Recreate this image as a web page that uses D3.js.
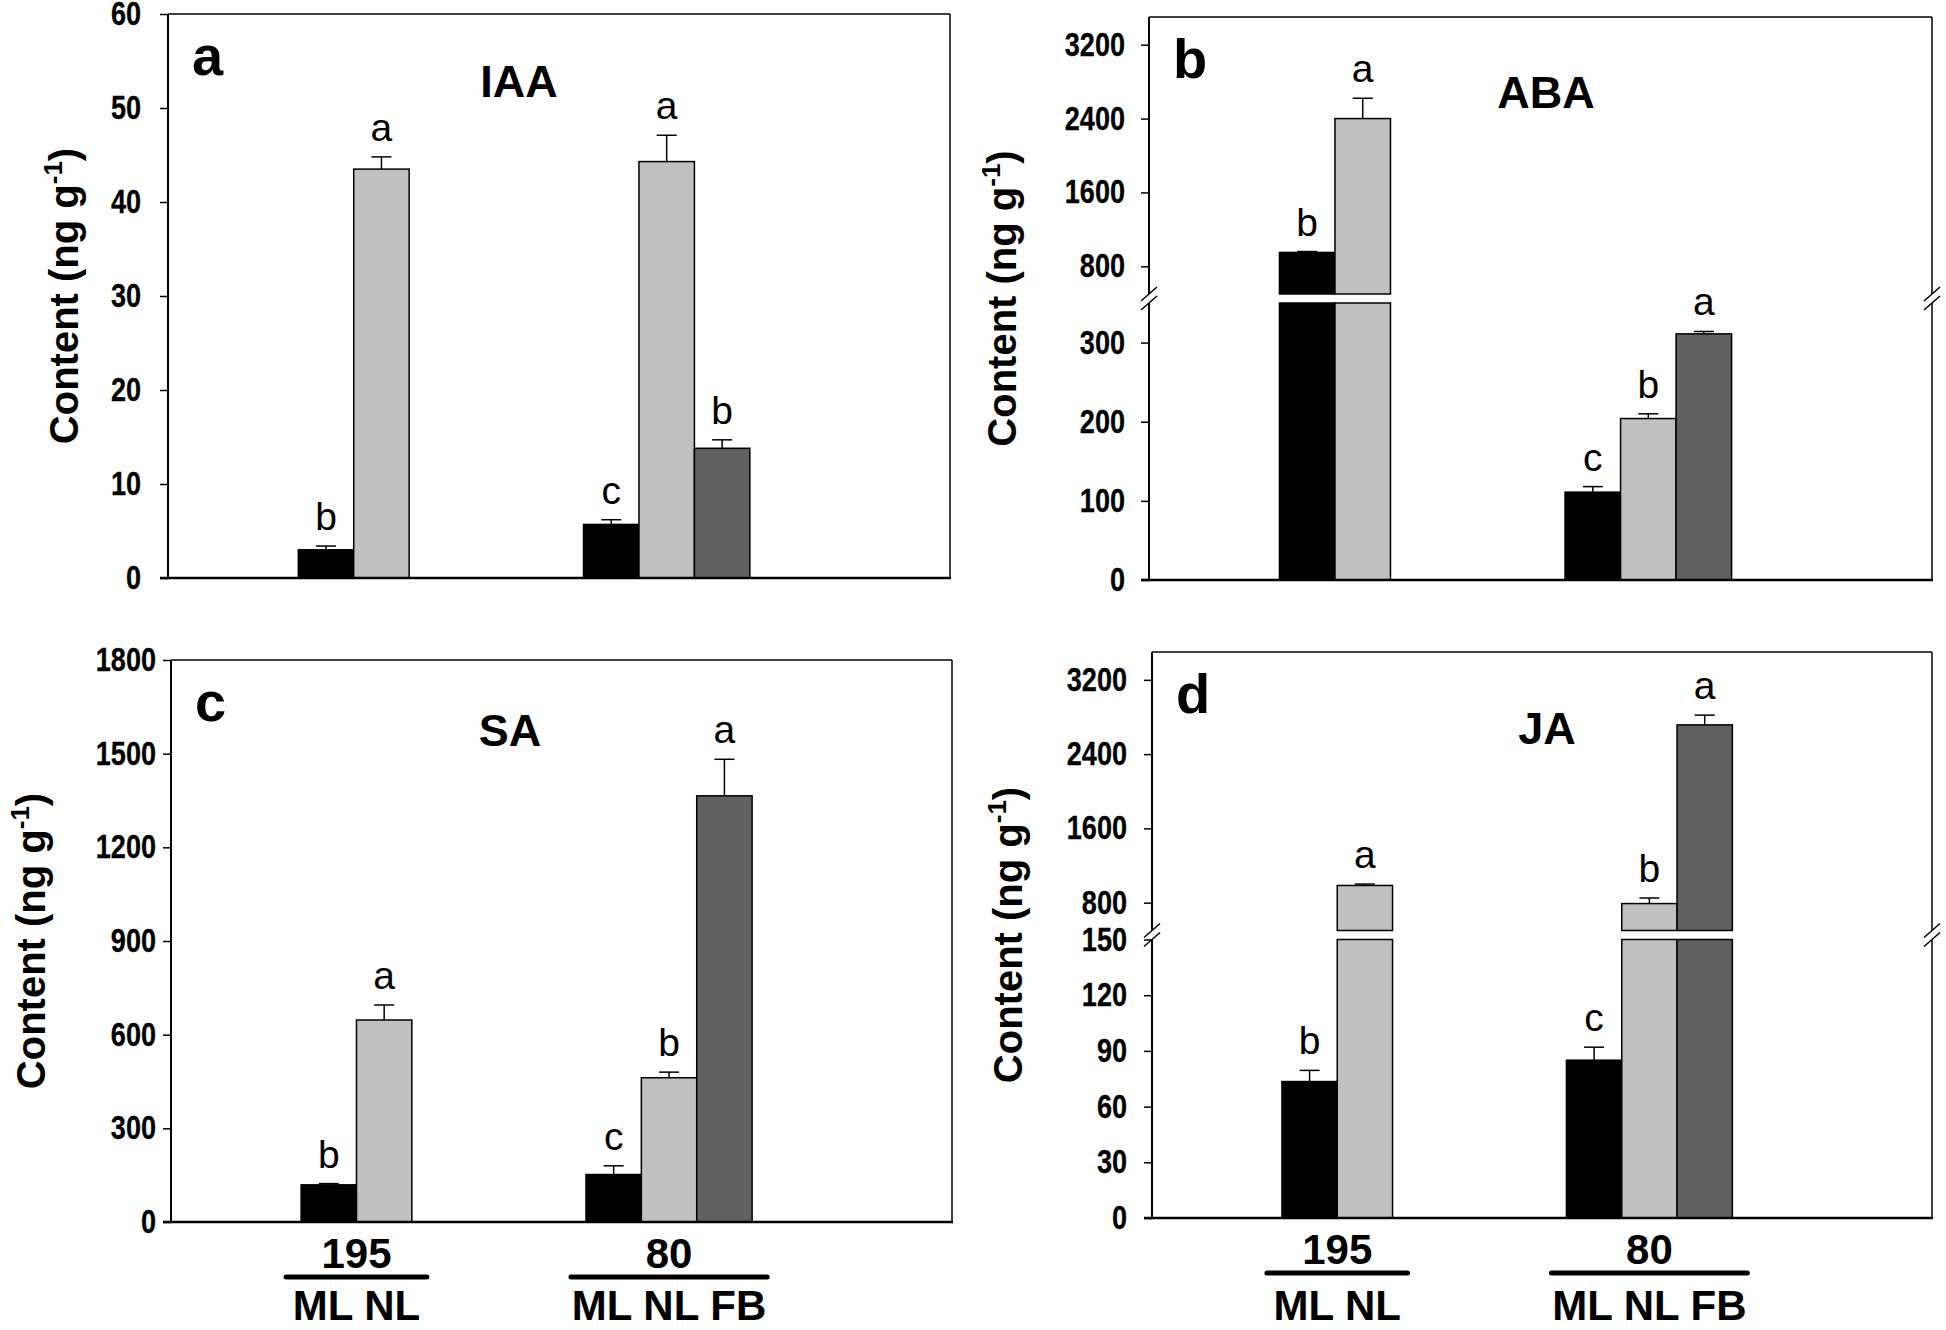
<!DOCTYPE html>
<html>
<head>
<meta charset="utf-8">
<script src="https://cdn.jsdelivr.net/npm/d3@7/dist/d3.min.js"></script>
<style>
  html, body { margin: 0; padding: 0; background: #fff; }
  svg text { font-family: "Liberation Sans", Arial, Helvetica, sans-serif; }
</style>
</head>
<body>
<svg id="chart" width="1946" height="1330"></svg>
<script>
// ---------------- DATA ----------------
const groups = ["195", "80"];
const treatments = ["ML", "NL", "FB"];
const barGroup = ["195", "195", "80", "80", "80"];
const barTreatment = ["ML", "NL", "ML", "NL", "FB"];
const groupLabels = ["ML NL", "ML NL FB"];

// IAA (panel a)
const iaaMean = [3.0, 43.5, 5.7, 44.3, 13.8];
const iaaErr = [0.4, 1.3, 0.5, 2.8, 0.9];
const iaaLetters = ["b", "a", "c", "a", "b"];
const iaaTicks = [0, 10, 20, 30, 40, 50, 60];

// ABA (panel b)
const abaMean = [950, 2400, 111, 204, 311];
const abaErr = [10, 220, 7, 6, 3];
const abaLetters = ["b", "a", "c", "b", "a"];
const abaTicksLow = [0, 100, 200, 300];
const abaTicksHigh = [800, 1600, 2400, 3200];

// SA (panel c)
const saMean = [119, 647, 152, 462, 1365];
const saErr = [4, 48, 28, 18, 117];
const saLetters = ["b", "a", "c", "b", "a"];
const saTicks = [0, 300, 600, 900, 1200, 1500, 1800];

// JA (panel d)
const jaMean = [73.5, 985, 85, 790, 2715];
const jaErr = [6, 15, 7, 60, 105];
const jaLetters = ["b", "a", "c", "b", "a"];
const jaTicksLow = [0, 30, 60, 90, 120, 150];
const jaTicksHigh = [800, 1600, 2400, 3200];

// ---------------- STYLE / LAYOUT ----------------
const fillColor = d3.scaleOrdinal().domain(treatments).range(["#000000", "#c0c0c0", "#606060"]);
const FONT = '"Liberation Sans", Arial, Helvetica, sans-serif';

const panels = [
  { letter: "a", title: "IAA", mean: iaaMean, err: iaaErr, letters: iaaLetters,
    left: 168, right: 950, top: 14, bottom: 578, broken: false, tickPad: 19,
    domain: [0, 60], ticks: iaaTicks, titleX: 519, titleY: 97, yTitleX: 78, xLabels: false },
  { letter: "b", title: "ABA", mean: abaMean, err: abaErr, letters: abaLetters,
    left: 1149, right: 1932, top: 17, bottom: 580, broken: true, tickPad: 16,
    lowDomain: [0, 350], highDomain: [500, 3500], ticksLow: abaTicksLow, ticksHigh: abaTicksHigh,
    titleX: 1546, titleY: 108, yTitleX: 1016, xLabels: false },
  { letter: "c", title: "SA", mean: saMean, err: saErr, letters: saLetters,
    left: 171, right: 952, top: 660, bottom: 1222, broken: false, tickPad: 7,
    domain: [0, 1800], ticks: saTicks, titleX: 510, titleY: 746, yTitleX: 45, xLabels: true },
  { letter: "d", title: "JA", mean: jaMean, err: jaErr, letters: jaLetters,
    left: 1152, right: 1932, top: 652, bottom: 1218, broken: true, tickPad: 17,
    lowDomain: [0, 150], highDomain: [500, 3500], ticksLow: jaTicksLow, ticksHigh: jaTicksHigh,
    titleX: 1547, titleY: 744, yTitleX: 1022, xLabels: true }
];

const svg = d3.select("#chart");
const GAP = 9;

panels.forEach(p => {
  const g = svg.append("g");
  const w = p.right - p.left;

  // x positioning
  const xg = d3.scalePoint().domain(groups).range([p.left + 0.2375 * w, p.left + 0.6377 * w]);
  const bw = 0.0709 * w;
  const nInGroup = grp => barGroup.filter(b => b === grp).length;
  const idxInGroup = i => barGroup.slice(0, i).filter(b => b === barGroup[i]).length;
  const barX = i => xg(barGroup[i]) - nInGroup(barGroup[i]) * bw / 2 + idxInGroup(i) * bw;

  // y scales
  let yLow, yHigh, yVal;
  if (p.broken) {
    const half = (p.bottom - p.top - GAP) / 2;
    yLow = d3.scaleLinear().domain(p.lowDomain).range([p.bottom, p.bottom - half]);
    yHigh = d3.scaleLinear().domain(p.highDomain).range([p.top + half, p.top]);
    yVal = v => v <= p.lowDomain[1] ? yLow(v) : yHigh(v);
  } else {
    yLow = d3.scaleLinear().domain(p.domain).range([p.bottom, p.top]);
    yVal = yLow;
  }

  // bars
  p.mean.forEach((v, i) => {
    const x = barX(i);
    const col = fillColor(barTreatment[i]);
    if (!p.broken || v <= p.lowDomain[1]) {
      g.append("rect").attr("x", x).attr("width", bw)
        .attr("y", yLow(v)).attr("height", yLow(0) - yLow(v))
        .attr("fill", col).attr("stroke", "#000").attr("stroke-width", 1.5);
    } else {
      const lt = yLow(p.lowDomain[1]);
      g.append("rect").attr("x", x).attr("width", bw)
        .attr("y", lt).attr("height", yLow(0) - lt)
        .attr("fill", col).attr("stroke", "#000").attr("stroke-width", 1.5);
      const hb = yHigh(p.highDomain[0]);
      g.append("rect").attr("x", x).attr("width", bw)
        .attr("y", yHigh(v)).attr("height", hb - yHigh(v))
        .attr("fill", col).attr("stroke", "#000").attr("stroke-width", 1.5);
    }
    // error bar
    const cx = x + bw / 2;
    const yTop = yVal(v + p.err[i]);
    g.append("line").attr("x1", cx).attr("x2", cx).attr("y1", yVal(v)).attr("y2", yTop)
      .attr("stroke", "#000").attr("stroke-width", 1.5);
    g.append("line").attr("x1", cx - 10).attr("x2", cx + 10).attr("y1", yTop).attr("y2", yTop)
      .attr("stroke", "#000").attr("stroke-width", 1.5);
    // significance letter
    g.append("text").attr("x", cx).attr("y", yTop - 16)
      .attr("text-anchor", "middle").attr("font-size", 39).attr("font-family", FONT)
      .text(p.letters[i]);
  });

  // frame / axes
  const axStroke = 2;
  if (!p.broken) {
    g.append("line").attr("x1", p.left).attr("x2", p.left).attr("y1", p.top).attr("y2", p.bottom)
      .attr("stroke", "#000").attr("stroke-width", axStroke);
    g.append("line").attr("x1", p.right).attr("x2", p.right).attr("y1", p.top).attr("y2", p.bottom)
      .attr("stroke", "#000").attr("stroke-width", 1.5);
  } else {
    const lt = yLow(p.lowDomain[1]);
    const hb = yHigh(p.highDomain[0]);
    [p.left, p.right].forEach((ax, k) => {
      const sw = k === 0 ? axStroke : 1.5;
      g.append("line").attr("x1", ax).attr("x2", ax).attr("y1", p.top).attr("y2", hb)
        .attr("stroke", "#000").attr("stroke-width", sw);
      g.append("line").attr("x1", ax).attr("x2", ax).attr("y1", lt).attr("y2", p.bottom)
        .attr("stroke", "#000").attr("stroke-width", sw);
      [hb, lt].forEach(yy => {
        g.append("line").attr("x1", ax - 8).attr("x2", ax + 8).attr("y1", yy + 7).attr("y2", yy - 7)
          .attr("stroke", "#000").attr("stroke-width", 1.5);
      });
    });
  }
  g.append("line").attr("x1", p.left).attr("x2", p.right).attr("y1", p.top).attr("y2", p.top)
    .attr("stroke", "#000").attr("stroke-width", 1.5);
  g.append("line").attr("x1", p.left - 8).attr("x2", p.right + 1).attr("y1", p.bottom).attr("y2", p.bottom)
    .attr("stroke", "#000").attr("stroke-width", 2.5);

  // y axis ticks via d3.axisLeft (narrow bold labels)
  const styleAxis = sel => {
    sel.select(".domain").remove();
    sel.selectAll(".tick line").attr("stroke", "#000").attr("stroke-width", 1.5);
    sel.selectAll(".tick text").attr("font-size", 33).attr("font-weight", "bold")
      .attr("font-family", FONT).attr("fill", "#000")
      .attr("stroke", "#000").attr("stroke-width", 0.3)
      .each(function () {
        const len = this.getComputedTextLength();
        d3.select(this).attr("textLength", len * 0.82).attr("lengthAdjust", "spacingAndGlyphs");
      });
  };
  const mkAxis = sc => d3.axisLeft(sc).tickSize(8).tickPadding(p.tickPad).tickFormat(d3.format("d"));
  if (!p.broken) {
    g.append("g").attr("transform", `translate(${p.left},0)`)
      .call(mkAxis(yLow).tickValues(p.ticks)).call(styleAxis);
  } else {
    g.append("g").attr("transform", `translate(${p.left},0)`)
      .call(mkAxis(yLow).tickValues(p.ticksLow)).call(styleAxis);
    g.append("g").attr("transform", `translate(${p.left},0)`)
      .call(mkAxis(yHigh).tickValues(p.ticksHigh)).call(styleAxis);
  }

  // y axis title
  const cy = (p.top + p.bottom) / 2;
  const t = g.append("text")
    .attr("transform", `translate(${p.yTitleX},${cy}) rotate(-90)`)
    .attr("text-anchor", "middle").attr("font-size", 40).attr("font-weight", "bold")
    .attr("font-family", FONT);
  t.append("tspan").text("Content (ng g");
  t.append("tspan").attr("font-size", 26).attr("dy", -16).text("-1");
  t.append("tspan").attr("dy", 16).text(")");

  // panel letter and title
  g.append("text").attr("x", p.left + 24).attr("y", p.top + 61)
    .attr("font-size", 56).attr("font-weight", "bold").attr("font-family", FONT).text(p.letter);
  g.append("text").attr("x", p.titleX).attr("y", p.titleY).attr("text-anchor", "middle")
    .attr("font-size", 45).attr("font-weight", "bold").attr("font-family", FONT).text(p.title);

  // group labels under x axis
  if (p.xLabels) {
    groups.forEach((grp, k) => {
      const idx = barGroup.map((b, i) => b === grp ? i : -1).filter(i => i >= 0);
      const x0 = barX(idx[0]), x1 = barX(idx[idx.length - 1]) + bw;
      const cx = (x0 + x1) / 2;
      g.append("text").attr("x", cx).attr("y", p.bottom + 46).attr("text-anchor", "middle")
        .attr("font-size", 42).attr("font-weight", "bold").attr("font-family", FONT).text(grp);
      g.append("line").attr("x1", x0 - 15).attr("x2", x1 + 15)
        .attr("y1", p.bottom + 55).attr("y2", p.bottom + 55)
        .attr("stroke", "#000").attr("stroke-width", 5).attr("stroke-linecap", "round");
      g.append("text").attr("x", cx).attr("y", Math.min(p.bottom + 103, 1320)).attr("text-anchor", "middle")
        .attr("font-size", 42).attr("font-weight", "bold").attr("font-family", FONT).text(groupLabels[k]);
    });
  }
});
</script>
</body>
</html>
